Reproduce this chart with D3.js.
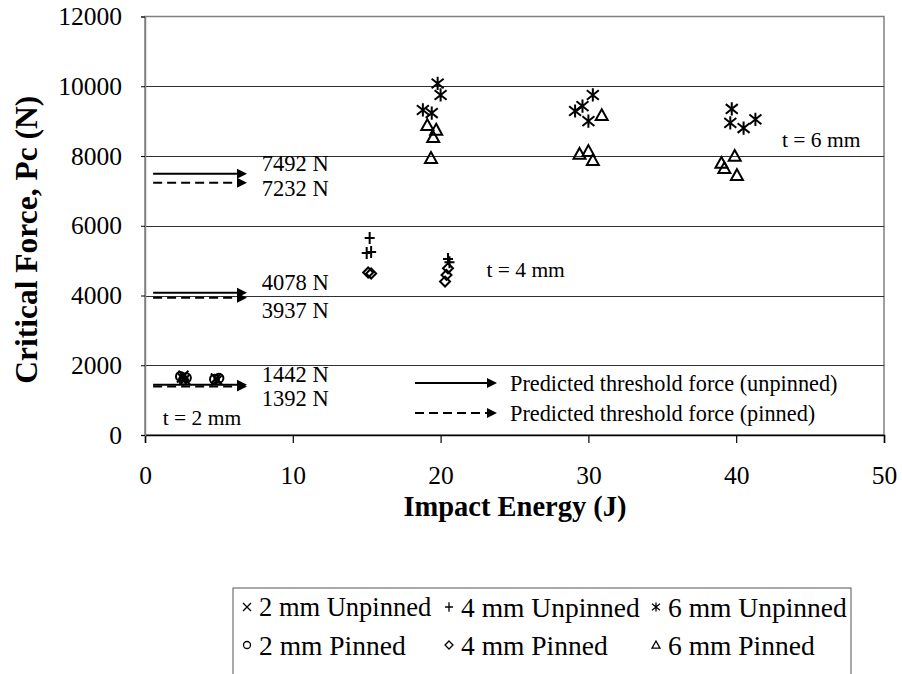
<!DOCTYPE html>
<html>
<head>
<meta charset="utf-8">
<script src="https://cdn.jsdelivr.net/npm/d3@7"></script>
<style>
  html, body { margin: 0; padding: 0; background: #fff; }
  svg { display: block; }
  text { font-family: "Liberation Serif", "Times New Roman", serif; fill: #000; }
</style>
</head>
<body>
<svg id="chart" width="902" height="674"></svg>
<script>
// ---- data -------------------------------------------------------------
// Impact energy (J) and critical force (N) for each specimen group
const unpinned2 = [[2.5, 1650], [2.7, 1600], [2.6, 1700], [4.8, 1620], [4.9, 1580]];
const pinned2   = [[2.4, 1680], [2.6, 1580], [2.8, 1640], [4.7, 1600], [5.0, 1630]];
const unpinned4 = [[15.2, 5650], [15.0, 5220], [15.3, 5250], [20.5, 5050], [20.6, 4950]];
const pinned4   = [[15.1, 4660], [15.3, 4630], [20.5, 4780], [20.4, 4590], [20.3, 4400]];
const unpinned6 = [[19.8, 10080], [20.0, 9750], [18.8, 9320], [19.4, 9230],
                   [30.3, 9750], [29.6, 9430], [29.1, 9290], [30.0, 9000],
                   [39.7, 9350], [39.6, 8950], [40.5, 8800], [41.3, 9050]];
const pinned6   = [[19.1, 8880], [19.7, 8750], [19.5, 8540], [19.35, 7940],
                   [30.9, 9170], [29.4, 8060], [30.0, 8140], [30.3, 7880],
                   [39.0, 7800], [39.2, 7650], [39.9, 8000], [40.05, 7450]];

// Predicted threshold forces (N)
const thresholdUnpinned = [7492, 4078, 1442];
const thresholdPinned   = [7232, 3937, 1392];

const xTicks = [0, 10, 20, 30, 40, 50];
const yTicks = [0, 2000, 4000, 6000, 8000, 10000, 12000];

const thicknessLabels = [
  { text: "t = 2 mm", x: 1.2, y: 500 },
  { text: "t = 4 mm", x: 23.1, y: 4750 },
  { text: "t = 6 mm", x: 43.1, y: 8480 }
];

const seriesNames = ["2 mm Unpinned", "4 mm Unpinned", "6 mm Unpinned",
                     "2 mm Pinned", "4 mm Pinned", "6 mm Pinned"];

// ---- layout -----------------------------------------------------------
const svg = d3.select("#chart");
const x = d3.scaleLinear().domain([0, 50]).range([145, 884]);
const y = d3.scaleLinear().domain([0, 12000]).range([435, 16.5]);

// marker outlines centred on 0,0
const markers = {
  cross: s => `M${-s},${-s}L${s},${s}M${-s},${s}L${s},${-s}`,
  plus: s => `M${-s},0L${s},0M0,${-s * 1.2}L0,${s * 1.2}`,
  star: s => `M${-s},${-s * 0.8}L${s},${s * 0.8}M${-s},${s * 0.8}L${s},${-s * 0.8}M0,${-s * 1.1}L0,${s * 1.1}`,
  circle: s => `M${s},0A${s},${s},0,1,1,${-s},0A${s},${s},0,1,1,${s},0Z`,
  diamond: s => `M0,${-s}L${s},0L0,${s}L${-s},0Z`,
  triangle: s => `M0,${-s}L${s},${s * 0.8}L${-s},${s * 0.8}Z`
};

// ---- plot frame and grid ---------------------------------------------
svg.append("rect")
  .attr("x", x(0)).attr("y", y(12000))
  .attr("width", x(50) - x(0)).attr("height", y(0) - y(12000))
  .attr("fill", "#fff").attr("stroke", "#808080").attr("stroke-width", 1.5);

svg.append("g").selectAll("line")
  .data(yTicks.filter(d => d > 0 && d < 12000))
  .join("line")
  .attr("x1", x(0)).attr("x2", x(50))
  .attr("y1", d => Math.round(y(d)) + 0.5).attr("y2", d => Math.round(y(d)) + 0.5)
  .attr("stroke", "#303030").attr("stroke-width", 1);

// axes
const xAxis = svg.append("g")
  .attr("transform", `translate(0,${y(0)})`)
  .call(d3.axisBottom(x).tickValues(xTicks).tickSize(8).tickPadding(23).tickFormat(d3.format("d")));
xAxis.select(".domain").attr("stroke", "#000").attr("stroke-width", 1.5);
xAxis.selectAll(".tick line").attr("stroke", "#000").attr("stroke-width", 1.2);
xAxis.selectAll(".tick text").attr("font-size", 25.5).attr("font-family", "Liberation Serif");

const yAxis = svg.append("g")
  .attr("transform", `translate(${x(0)},0)`)
  .call(d3.axisLeft(y).tickValues(yTicks).tickSize(4).tickPadding(19).tickFormat(d3.format("d")));
yAxis.select(".domain").attr("stroke", "#808080").attr("stroke-width", 1.5);
yAxis.selectAll(".tick line").attr("stroke", "#000");
yAxis.selectAll(".tick text").attr("font-size", 25.5).attr("font-family", "Liberation Serif");

// axis titles
svg.append("text")
  .attr("x", 515).attr("y", 516)
  .attr("text-anchor", "middle")
  .attr("font-size", 28.5).attr("font-weight", "bold")
  .text("Impact Energy (J)");

svg.append("text")
  .attr("transform", `translate(37,${(y(0) + y(12000)) / 2 + 14}) rotate(-90)`)
  .attr("text-anchor", "middle")
  .attr("font-size", 31.5).attr("font-weight", "bold")
  .text("Critical Force, Pc (N)");

// ---- threshold arrows -------------------------------------------------
function arrow(g, x1, x2, yy, dashed) {
  const head = 10;
  g.append("line")
    .attr("x1", x1).attr("x2", x2 - head).attr("y1", yy).attr("y2", yy)
    .attr("stroke", "#000").attr("stroke-width", 2)
    .attr("stroke-dasharray", dashed ? "9,5" : null);
  g.append("path")
    .attr("d", `M${x2},${yy}L${x2 - head},${yy - 5}L${x2 - head},${yy + 5}Z`)
    .attr("fill", "#000");
}

const arrows = svg.append("g");
const arrowStart = 0.55, arrowEnd = 6.9, labelX = 7.9;
const unpinnedLabelOffset = -11;
const pinnedLabelOffset = [5, 12, 12];

thresholdUnpinned.forEach(v => {
  arrow(arrows, x(arrowStart), x(arrowEnd), y(v), false);
  arrows.append("text")
    .attr("x", x(labelX)).attr("y", y(v) + unpinnedLabelOffset)
    .attr("dy", "0.35em").attr("font-size", 22.5)
    .text(`${v} N`);
});
thresholdPinned.forEach((v, i) => {
  arrow(arrows, x(arrowStart), x(arrowEnd), y(v), true);
  arrows.append("text")
    .attr("x", x(labelX)).attr("y", y(v) + pinnedLabelOffset[i])
    .attr("dy", "0.35em").attr("font-size", 22.5)
    .text(`${v} N`);
});

// thickness annotations
svg.append("g").selectAll("text")
  .data(thicknessLabels)
  .join("text")
  .attr("x", d => x(d.x)).attr("y", d => y(d.y))
  .attr("dy", "0.35em").attr("font-size", 21.5)
  .text(d => d.text);

// in-plot key for the arrows
const key = svg.append("g");
arrow(key, 415, 497, 383, false);
arrow(key, 415, 497, 413, true);
key.append("text").attr("x", 510).attr("y", 383).attr("dy", "0.35em")
  .attr("font-size", 22.3).text("Predicted threshold force (unpinned)");
key.append("text").attr("x", 510).attr("y", 413).attr("dy", "0.35em")
  .attr("font-size", 22.3).text("Predicted threshold force (pinned)");

// ---- data points ------------------------------------------------------
const series = [
  { data: unpinned2, shape: "cross", size: 5 },
  { data: unpinned4, shape: "plus", size: 5 },
  { data: unpinned6, shape: "star", size: 6 },
  { data: pinned2, shape: "circle", size: 4.5 },
  { data: pinned4, shape: "diamond", size: 5 },
  { data: pinned6, shape: "triangle", size: 6 }
];

const pts = svg.append("g");
series.forEach(s => {
  pts.append("g").selectAll("path")
    .data(s.data)
    .join("path")
    .attr("transform", d => `translate(${x(d[0])},${y(d[1])})`)
    .attr("d", markers[s.shape](s.size))
    .attr("fill", "none").attr("stroke", "#000").attr("stroke-width", 2);
});

// ---- legend -----------------------------------------------------------
const legend = svg.append("g");
legend.append("rect")
  .attr("x", 233).attr("y", 588).attr("width", 618).attr("height", 100)
  .attr("fill", "#fff").attr("stroke", "#555").attr("stroke-width", 1);

const colX = [247, 449, 656];
const rowY = [607, 645];
seriesNames.forEach((name, i) => {
  const col = i % 3, row = Math.floor(i / 3);
  const s = series[i];
  legend.append("path")
    .attr("transform", `translate(${colX[col]},${rowY[row]})`)
    .attr("d", markers[s.shape](s.shape === "circle" ? 3.5 : 4))
    .attr("fill", "none").attr("stroke", "#000").attr("stroke-width", 1.3);
  legend.append("text")
    .attr("x", colX[col] + 12).attr("y", rowY[row]).attr("dy", "0.35em")
    .attr("font-size", i === 0 ? 26.5 : 27.5)
    .text(name);
});
</script>
</body>
</html>
